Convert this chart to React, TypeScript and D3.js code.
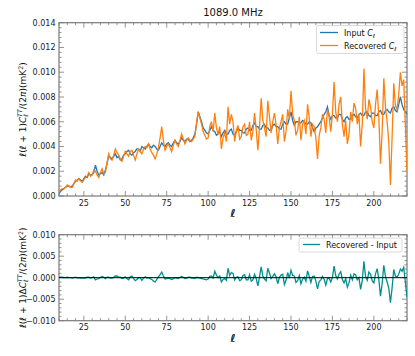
import React, { useEffect, useRef } from 'react';
import * as d3 from 'd3';

// multipoles (x categories), one per ℓ from 10 to 220
const ELL = [
  10, 11, 12, 13, 14, 15, 16, 17, 18, 19, 20, 21, 22, 23, 24, 25, 26, 27, 28, 29,
  30, 31, 32, 33, 34, 35, 36, 37, 38, 39, 40, 41, 42, 43, 44, 45, 46, 47, 48, 49,
  50, 51, 52, 53, 54, 55, 56, 57, 58, 59, 60, 61, 62, 63, 64, 65, 66, 67, 68, 69,
  70, 71, 72, 73, 74, 75, 76, 77, 78, 79, 80, 81, 82, 83, 84, 85, 86, 87, 88, 89,
  90, 91, 92, 93, 94, 95, 96, 97, 98, 99, 100, 101, 102, 103, 104, 105, 106, 107, 108, 109,
  110, 111, 112, 113, 114, 115, 116, 117, 118, 119, 120, 121, 122, 123, 124, 125, 126, 127, 128, 129,
  130, 131, 132, 133, 134, 135, 136, 137, 138, 139, 140, 141, 142, 143, 144, 145, 146, 147, 148, 149,
  150, 151, 152, 153, 154, 155, 156, 157, 158, 159, 160, 161, 162, 163, 164, 165, 166, 167, 168, 169,
  170, 171, 172, 173, 174, 175, 176, 177, 178, 179, 180, 181, 182, 183, 184, 185, 186, 187, 188, 189,
  190, 191, 192, 193, 194, 195, 196, 197, 198, 199, 200, 201, 202, 203, 204, 205, 206, 207, 208, 209,
  210, 211, 212, 213, 214, 215, 216, 217, 218, 219, 220,
];

// input power spectrum
const INPUT_CL = [
  0.0002, 0.0004, 0.0005, 0.0006, 0.0007, 0.0008, 0.0008, 0.0007, 0.0008, 0.0010,
  0.0012, 0.0013, 0.0014, 0.0013, 0.0012, 0.0014, 0.0016, 0.0015, 0.0018, 0.0017,
  0.0017, 0.0019, 0.0025, 0.0020, 0.0017, 0.0018, 0.0019, 0.0017, 0.0021, 0.0026,
  0.0033, 0.0031, 0.0030, 0.0032, 0.0034, 0.0031, 0.0032, 0.0029, 0.0030, 0.0033,
  0.0034, 0.0036, 0.0037, 0.0034, 0.0033, 0.0035, 0.0036, 0.0038, 0.0038, 0.0036,
  0.0040, 0.0039, 0.0038, 0.0040, 0.0042, 0.0040, 0.0039, 0.0041, 0.0040, 0.0038,
  0.0037, 0.0040, 0.0043, 0.0041, 0.0040, 0.0042, 0.0043, 0.0041, 0.0040, 0.0043,
  0.0045, 0.0043, 0.0042, 0.0044, 0.0047, 0.0045, 0.0044, 0.0046, 0.0046, 0.0044,
  0.0045, 0.0047, 0.0050, 0.0058, 0.0068, 0.0064, 0.0060, 0.0055, 0.0053, 0.0051,
  0.0050, 0.0053, 0.0056, 0.0053, 0.0052, 0.0049, 0.0050, 0.0052, 0.0048, 0.0051,
  0.0053, 0.0050, 0.0050, 0.0053, 0.0054, 0.0050, 0.0049, 0.0052, 0.0055, 0.0053,
  0.0053, 0.0051, 0.0051, 0.0054, 0.0055, 0.0053, 0.0053, 0.0057, 0.0059, 0.0056,
  0.0056, 0.0054, 0.0054, 0.0057, 0.0058, 0.0055, 0.0055, 0.0053, 0.0053, 0.0057,
  0.0058, 0.0056, 0.0056, 0.0054, 0.0054, 0.0058, 0.0060, 0.0058, 0.0058, 0.0063,
  0.0068, 0.0061, 0.0057, 0.0060, 0.0060, 0.0059, 0.0059, 0.0061, 0.0060, 0.0058,
  0.0058, 0.0060, 0.0059, 0.0055, 0.0052, 0.0055, 0.0056, 0.0058, 0.0060, 0.0063,
  0.0066, 0.0068, 0.0072, 0.0065, 0.0062, 0.0065, 0.0065, 0.0063, 0.0063, 0.0066,
  0.0066, 0.0062, 0.0060, 0.0063, 0.0064, 0.0062, 0.0062, 0.0065, 0.0066, 0.0064,
  0.0063, 0.0066, 0.0067, 0.0065, 0.0065, 0.0068, 0.0068, 0.0065, 0.0064, 0.0067,
  0.0067, 0.0065, 0.0065, 0.0068, 0.0069, 0.0066, 0.0066, 0.0069, 0.0070, 0.0068,
  0.0067, 0.0071, 0.0072, 0.0069, 0.0068, 0.0074, 0.0080, 0.0074, 0.0070, 0.0068,
  0.0066,
];

// recovered power spectrum
const RECOVERED_CL = [
  0.0003, 0.0005, 0.0006, 0.0006, 0.0007, 0.0009, 0.0008, 0.0007, 0.0007, 0.0010,
  0.0013, 0.0012, 0.0014, 0.0012, 0.0011, 0.0013, 0.0015, 0.0016, 0.0019, 0.0016,
  0.0017, 0.0021, 0.0020, 0.0017, 0.0015, 0.0019, 0.0022, 0.0018, 0.0019, 0.0027,
  0.0034, 0.0030, 0.0029, 0.0033, 0.0038, 0.0035, 0.0033, 0.0030, 0.0028, 0.0032,
  0.0036, 0.0034, 0.0032, 0.0036, 0.0037, 0.0033, 0.0029, 0.0034, 0.0038, 0.0036,
  0.0034, 0.0038, 0.0040, 0.0039, 0.0042, 0.0038, 0.0035, 0.0033, 0.0030, 0.0034,
  0.0039, 0.0047, 0.0056, 0.0045, 0.0037, 0.0040, 0.0042, 0.0039, 0.0036, 0.0041,
  0.0045, 0.0042, 0.0040, 0.0045, 0.0050, 0.0046, 0.0042, 0.0045, 0.0047, 0.0045,
  0.0044, 0.0046, 0.0048, 0.0059, 0.0068, 0.0063, 0.0058, 0.0052, 0.0049, 0.0046,
  0.0047, 0.0056, 0.0060, 0.0052, 0.0067, 0.0055, 0.0050, 0.0056, 0.0038, 0.0047,
  0.0051, 0.0044, 0.0072, 0.0058, 0.0066, 0.0060, 0.0044, 0.0053, 0.0057, 0.0046,
  0.0048, 0.0056, 0.0058, 0.0049, 0.0050, 0.0060, 0.0045, 0.0052, 0.0067, 0.0054,
  0.0037, 0.0056, 0.0079, 0.0061, 0.0055, 0.0048, 0.0077, 0.0064, 0.0051, 0.0060,
  0.0067, 0.0058, 0.0042, 0.0055, 0.0060, 0.0066, 0.0044, 0.0052, 0.0070, 0.0062,
  0.0085, 0.0066, 0.0061, 0.0049, 0.0053, 0.0064, 0.0045, 0.0058, 0.0061, 0.0050,
  0.0074, 0.0063, 0.0048, 0.0058, 0.0056, 0.0047, 0.0030, 0.0049, 0.0055, 0.0066,
  0.0062, 0.0051, 0.0070, 0.0064, 0.0052, 0.0066, 0.0092, 0.0068, 0.0060, 0.0074,
  0.0080, 0.0058, 0.0048, 0.0061, 0.0042, 0.0050, 0.0068, 0.0060, 0.0075, 0.0071,
  0.0058, 0.0066, 0.0040, 0.0058, 0.0103, 0.0071, 0.0062, 0.0078, 0.0072, 0.0060,
  0.0055, 0.0074, 0.0086, 0.0064, 0.0026, 0.0052, 0.0095, 0.0072, 0.0060, 0.0044,
  0.0009, 0.0047, 0.0091, 0.0073, 0.0070, 0.0082, 0.0100, 0.0089, 0.0094, 0.0058,
  0.0020,
];

const X_TICKS = [25, 50, 75, 100, 125, 150, 175, 200];
const TOP_Y_TICKS = [0, 0.002, 0.004, 0.006, 0.008, 0.01, 0.012, 0.014];
const BOTTOM_Y_TICKS = [-0.01, -0.005, 0, 0.005, 0.01];
const TITLE = '1089.0 MHz';

const FONT = 'DejaVu Sans';
const SPINE = '#7a7a7a';

export default function App() {
  const svgRef = useRef<SVGSVGElement>(null);

  useEffect(() => {
    const svg = d3.select(svgRef.current);
    svg.selectAll('*').remove();

    const left = 59, right = 407;
    const x = d3.scaleLinear().domain([10, 220]).range([left, right]);

    const diff = RECOVERED_CL.map((v, i) => v - INPUT_CL[i]);

    // one panel: spines, inward ticks on all sides, labels
    const drawPanel = (top: number, bottom: number, domain: number[], yTicks: number[], minorStep: number, fmt: (d: number) => string, id: string) => {
      const y = d3.scaleLinear().domain(domain).range([bottom, top]);
      const g = svg.append('g');

      g.append('clipPath').attr('id', id)
        .append('rect').attr('x', left).attr('y', top).attr('width', right - left).attr('height', bottom - top);

      const xMinor = d3.range(10, 220.01, 5);
      const yMinor = d3.range(domain[0], domain[1] + minorStep / 2, minorStep);

      const ticks = g.append('g').attr('stroke', SPINE).attr('stroke-width', 0.8);
      xMinor.forEach(v => {
        const major = X_TICKS.includes(v);
        const len = major ? 5 : 2.5;
        ticks.append('line').attr('x1', x(v)).attr('x2', x(v)).attr('y1', bottom).attr('y2', bottom - len);
        ticks.append('line').attr('x1', x(v)).attr('x2', x(v)).attr('y1', top).attr('y2', top + len);
      });
      yMinor.forEach(v => {
        const major = yTicks.some(t => Math.abs(t - v) < minorStep / 10);
        const len = major ? 5 : 2.5;
        ticks.append('line').attr('y1', y(v)).attr('y2', y(v)).attr('x1', left).attr('x2', left + len);
        ticks.append('line').attr('y1', y(v)).attr('y2', y(v)).attr('x1', right).attr('x2', right - len);
      });

      g.append('rect')
        .attr('x', left).attr('y', top).attr('width', right - left).attr('height', bottom - top)
        .attr('fill', 'none').attr('stroke', SPINE).attr('stroke-width', 1.2);

      g.selectAll('.xl').data(X_TICKS).join('text')
        .attr('x', d => x(d)).attr('y', bottom + 9.5)
        .attr('text-anchor', 'middle').attr('font-family', FONT).attr('font-size', 8).attr('fill', '#222')
        .text(d => d);

      g.selectAll('.yl').data(yTicks).join('text')
        .attr('x', left - 3.5).attr('y', d => y(d)).attr('dy', '0.35em')
        .attr('text-anchor', 'end').attr('font-family', FONT).attr('font-size', 8).attr('fill', '#222')
        .text(d => fmt(d));

      g.append('text')
        .attr('x', (left + right) / 2).attr('y', bottom + 21)
        .attr('text-anchor', 'middle').attr('font-family', FONT).attr('font-size', 11)
        .attr('font-style', 'italic').attr('font-weight', 'bold').attr('fill', '#111')
        .text('ℓ');

      return { y, g };
    };

    // y label with math pieces
    const yLabel = (cy: number, delta: boolean) => {
      const t = svg.append('text')
        .attr('transform', `translate(26,${cy}) rotate(-90)`)
        .attr('text-anchor', 'middle').attr('font-family', FONT).attr('font-size', 9).attr('fill', '#111');
      const add = (s: string, o: { it?: boolean; size?: number; dy?: number; dx?: number } = {}) => {
        const ts = t.append('tspan').text(s);
        if (o.it) ts.attr('font-style', 'italic');
        if (o.size) ts.attr('font-size', o.size);
        if (o.dy) ts.attr('dy', o.dy);
        if (o.dx) ts.attr('dx', o.dx);
      };
      add('ℓ', { it: true });
      add('(');
      add('ℓ', { it: true });
      add(' + 1)');
      if (delta) add('Δ');
      add('C', { it: true });
      add('ℓ', { it: true, size: 6.3, dy: 2 });
      add('TT', { it: true, size: 6.3, dy: -6, dx: -2.8 });
      add('/(2', { dy: 4 });
      add('π', { it: true });
      add(')(mK');
      add('2', { size: 6.3, dy: -3.5 });
      add(')', { dy: 3.5 });
    };

    const line = (yS: d3.ScaleLinear<number, number>, vals: number[]) =>
      d3.line<number>().x((_, i) => x(ELL[i])).y(d => yS(d))(vals);

    // top panel
    const topTop = 22.7, topBottom = 196;
    const topP = drawPanel(topTop, topBottom, [0, 0.014], TOP_Y_TICKS, 0.0004, d => d.toFixed(3), 'clipTop');
    const lines = topP.g.append('g').attr('clip-path', 'url(#clipTop)');
    lines.append('path').attr('d', line(topP.y, INPUT_CL))
      .attr('fill', 'none').attr('stroke', '#1f77b4').attr('stroke-width', 1.3);
    lines.append('path').attr('d', line(topP.y, RECOVERED_CL))
      .attr('fill', 'none').attr('stroke', '#ff7f0e').attr('stroke-width', 1.3);

    yLabel((topTop + topBottom) / 2, false);

    svg.append('text')
      .attr('x', (left + right) / 2).attr('y', 15.5)
      .attr('text-anchor', 'middle').attr('font-family', FONT).attr('font-size', 10).attr('fill', '#111')
      .text(TITLE);

    // top legend
    const lg = svg.append('g');
    lg.append('rect').attr('x', 316.5).attr('y', 25.5).attr('width', 87.5).attr('height', 28)
      .attr('rx', 2).attr('fill', '#fff').attr('fill-opacity', 0.8).attr('stroke', '#d0d0d0').attr('stroke-width', 0.8);
    const legendItems = [
      { label: 'Input ', color: '#1f77b4' },
      { label: 'Recovered ', color: '#ff7f0e' },
    ];
    legendItems.forEach((d, i) => {
      const yy = 32.5 + i * 13;
      lg.append('line').attr('x1', 320).attr('x2', 338).attr('y1', yy).attr('y2', yy)
        .attr('stroke', d.color).attr('stroke-width', 1.3);
      const tx = lg.append('text').attr('x', 344).attr('y', yy + 3)
        .attr('font-family', FONT).attr('font-size', 8).attr('fill', '#111');
      tx.append('tspan').text(d.label);
      tx.append('tspan').attr('font-style', 'italic').text('C');
      tx.append('tspan').attr('font-style', 'italic').attr('font-size', 5.6).attr('dy', 2).text('ℓ');
    });

    // bottom panel
    const botTop = 234.7, botBottom = 320.7;
    const fmtB = (d: number) => (d < 0 ? '\u2212' : '') + Math.abs(d).toFixed(3);
    const botP = drawPanel(botTop, botBottom, [-0.01, 0.01], BOTTOM_Y_TICKS, 0.001, fmtB, 'clipBot');
    const bl = botP.g.append('g').attr('clip-path', 'url(#clipBot)');
    bl.append('path').attr('d', line(botP.y, diff))
      .attr('fill', 'none').attr('stroke', '#009090').attr('stroke-width', 1.3);
    bl.append('line').attr('x1', left).attr('x2', right).attr('y1', botP.y(0)).attr('y2', botP.y(0))
      .attr('stroke', '#000').attr('stroke-width', 1);

    yLabel((botTop + botBottom) / 2, true);

    const lg2 = svg.append('g');
    lg2.append('rect').attr('x', 299).attr('y', 238).attr('width', 103).attr('height', 14)
      .attr('rx', 2).attr('fill', '#fff').attr('fill-opacity', 0.8).attr('stroke', '#d0d0d0').attr('stroke-width', 0.8);
    lg2.append('line').attr('x1', 303).attr('x2', 320).attr('y1', 244.5).attr('y2', 244.5)
      .attr('stroke', '#009090').attr('stroke-width', 1.3);
    lg2.append('text').attr('x', 326).attr('y', 247.5)
      .attr('font-family', FONT).attr('font-size', 8).attr('fill', '#111')
      .text('Recovered - Input');
  }, []);

  return (
    <svg
      ref={svgRef}
      width={415}
      height={356}
      style={{ position: 'absolute', left: 0, top: 0, background: '#fff' }}
    />
  );
}
